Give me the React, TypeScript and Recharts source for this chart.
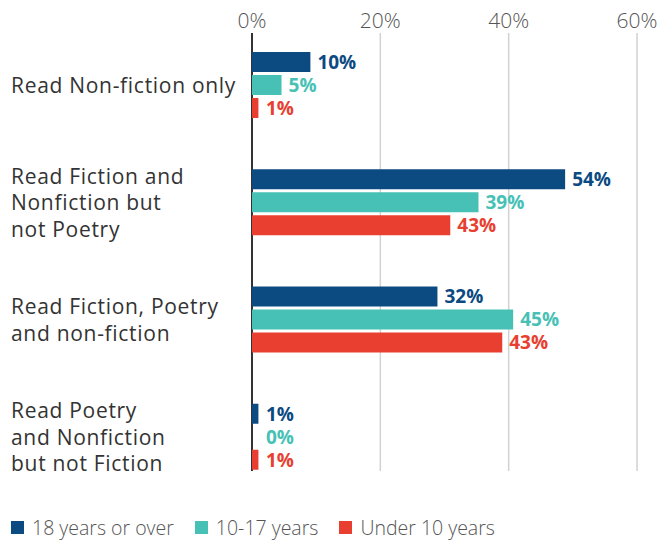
import React from 'react';
import {Bar, BarChart, CartesianGrid, LabelList, Legend, XAxis, YAxis} from 'recharts';

const categories = [
  'Read Non-fiction only',
  'Read Fiction and\nNonfiction but\nnot Poetry',
  'Read Fiction, Poetry\nand non-fiction',
  'Read Poetry\nand Nonfiction\nbut not Fiction',
];

// bar lengths as read against the axis
const adults = [9.1, 48.8, 28.9, 1.0];
const teens = [4.6, 35.3, 40.7, 0];
const children = [1.0, 30.9, 39.0, 1.0];

// printed value labels
const adultLabels = ['10%', '54%', '32%', '1%'];
const teenLabels = ['5%', '39%', '45%', '0%'];
const childLabels = ['1%', '43%', '43%', '1%'];

const xTicks = [0, 20, 40, 60];

const series = [
  {key: 'adults', label: 'adultsLabel', name: '18 years or over', color: '#0c4a82'},
  {key: 'teens', label: 'teensLabel', name: '10-17 years', color: '#47c1b5'},
  {key: 'children', label: 'childrenLabel', name: 'Under 10 years', color: '#e83f31'},
];

const data = categories.map((name, i) => ({
  name,
  adults: adults[i],
  teens: teens[i],
  children: children[i],
  adultsLabel: adultLabels[i],
  teensLabel: teenLabels[i],
  childrenLabel: childLabels[i],
}));

const FONT = '"Open Sans", sans-serif';

const TopTick = ({x, y, payload}) => (
  <text x={x} y={y + 2} textAnchor="middle" fontFamily={FONT} fontSize={21} fontWeight={300} fill="#555">
    {payload.value}%
  </text>
);

const CategoryTick = ({y, payload}) => {
  const lines = String(payload.value).split('\n');
  const lh = 26.5;
  const start = y + 1 - ((lines.length - 1) * lh) / 2;
  return (
    <text x={11} y={start} textAnchor="start" fontFamily={FONT} fontSize={21} letterSpacing={0.7} fill="#333">
      {lines.map((l, i) => (
        <tspan key={i} x={11} y={start + i * lh} dy="0.35em">{l}</tspan>
      ))}
    </text>
  );
};

const gridLine = (props) => {
  const isAxis = props.index === 0;
  return (
    <line
      key={props.key ?? `v-${props.index}`}
      x1={props.x1}
      x2={props.x2}
      y1={33}
      y2={471}
      stroke={isAxis ? '#333' : '#d2d2d2'}
      strokeWidth={isAxis ? 2 : 1.5}
    />
  );
};

const makeValueLabel = (color) => (props) => {
  const {x, y, width, height, value} = props;
  // zero-length bars get their label nudged off the axis line, as in the original
  const w = Math.max(Number(width), 7);
  return (
    <text
      x={Number(x) + w + 7}
      y={Number(y) + Number(height) / 2}
      dy="0.36em"
      textAnchor="start"
      fontFamily={FONT}
      fontSize={19}
      fontWeight={700}
      fill={color}
    >
      {value}
    </text>
  );
};

// keeps a zero-value bar in the layout so its label still shows
const keepZero = (value) => (value === 0 ? 0.01 : 0);

const LegendContent = () => (
  <div style={{display: 'flex', alignItems: 'center', height: 45, paddingLeft: 11, paddingTop: 20, boxSizing: 'border-box', fontFamily: FONT}}>
    {series.map(s => (
      <div key={s.key} style={{display: 'flex', alignItems: 'center', marginRight: 21}}>
        <span style={{display: 'inline-block', width: 13, height: 13, background: s.color, marginRight: 8}}/>
        <span style={{fontSize: 19.5, color: '#555', fontWeight: 300}}>{s.name}</span>
      </div>
    ))}
  </div>
);

export default function App() {
  return (
    <div style={{position: 'absolute', left: 0, top: 0, width: 672, height: 540, background: '#fff'}}>
      <BarChart
        width={672}
        height={540}
        data={data}
        layout="vertical"
        barSize={20}
        barGap={3}
        margin={{top: 0, right: 35, left: 0, bottom: 0}}
      >
        <CartesianGrid horizontal={false} vertical={gridLine}/>
        <XAxis
          type="number"
          orientation="top"
          domain={[0, 60]}
          ticks={xTicks}
          height={26}
          axisLine={false}
          tickLine={false}
          tickSize={0}
          tickMargin={0}
          tick={TopTick}
          interval={0}
        />
        <YAxis
          type="category"
          dataKey="name"
          width={252}
          axisLine={false}
          tickLine={false}
          tick={CategoryTick}
          interval={0}
        />
        <Legend verticalAlign="bottom" height={45} content={LegendContent}/>
        {series.map(s => (
          <Bar
            key={s.key}
            dataKey={s.key}
            name={s.name}
            fill={s.color}
            minPointSize={keepZero}
            isAnimationActive={false}
          >
            <LabelList dataKey={s.label} content={makeValueLabel(s.color)}/>
          </Bar>
        ))}
      </BarChart>
    </div>
  );
}
